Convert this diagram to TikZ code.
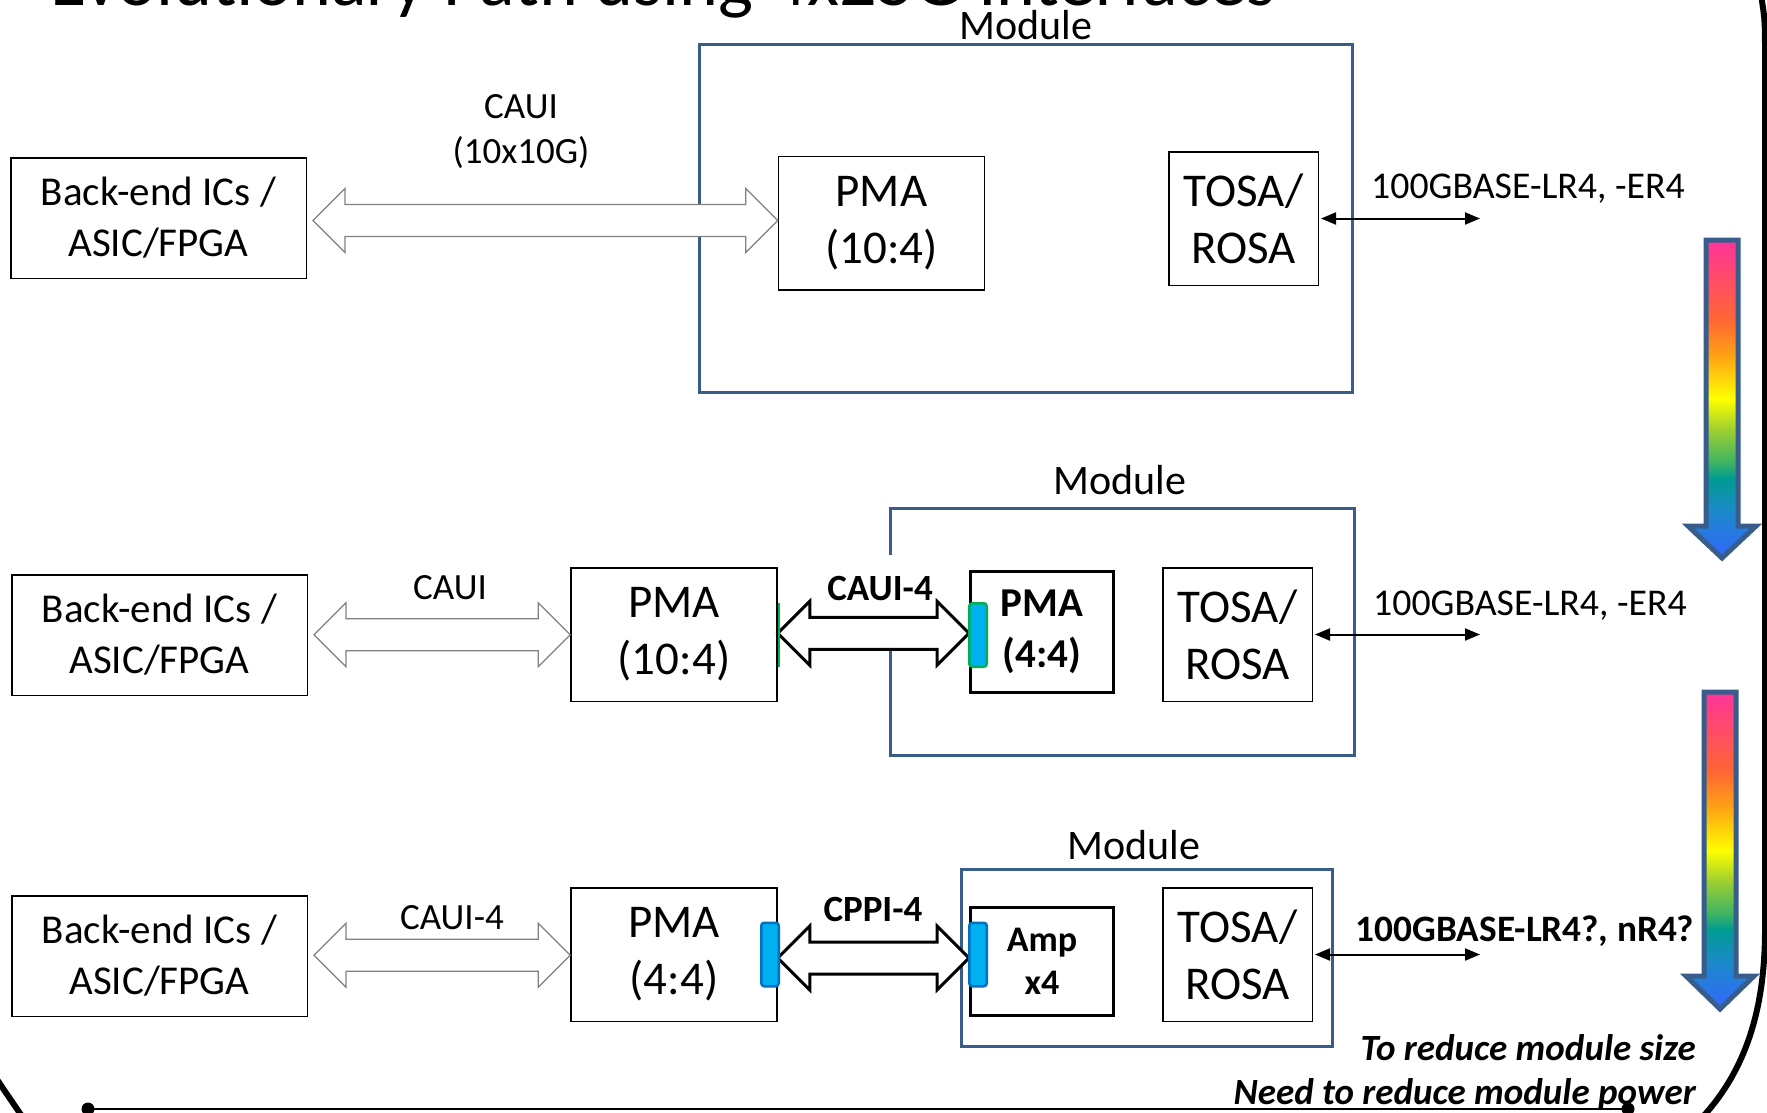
\documentclass[tikz,border=0pt]{standalone}
\usepackage{fontspec}
\setmainfont{Carlito}
\usetikzlibrary{arrows.meta,calc}
\definecolor{modblue}{RGB}{56,93,138}
\definecolor{padcyan}{RGB}{0,176,240}
\definecolor{padgreen}{RGB}{0,176,80}
\definecolor{padblue}{RGB}{0,112,192}
\definecolor{rbpink}{RGB}{255,51,153}
\definecolor{rbred}{RGB}{255,102,51}
\definecolor{rborange}{RGB}{255,160,20}
\definecolor{rbyellow}{RGB}{255,255,0}
\definecolor{rbygreen}{RGB}{154,205,50}
\definecolor{rbgreen}{RGB}{60,180,100}
\definecolor{rbteal}{RGB}{0,155,145}
\definecolor{rbtblue}{RGB}{28,138,200}
\definecolor{rbblue}{RGB}{51,102,255}
\pgfdeclareverticalshading{rainbow}{100bp}{color(0bp)=(rbblue); color(25bp)=(rbblue); color(32.5bp)=(rbtblue); color(37.5bp)=(rbteal); color(40bp)=(rbgreen); color(45bp)=(rbygreen); color(50bp)=(rbyellow); color(57bp)=(rborange); color(62.5bp)=(rbred); color(75bp)=(rbpink); color(100bp)=(rbpink)}
\newcommand{\fatarrow}[3]{%
  \path[#1] let \p1=(#2), \p2=(#3), \p3=($(#2)!0.5!(#3)$) in
    (\x1,\y3) -- (\x1+32pt,\y3+32pt) -- (\x1+32pt,\y3+16pt) -- (\x2-32pt,\y3+16pt)
    -- (\x2-32pt,\y3+32pt) -- (\x2,\y3) -- (\x2-32pt,\y3-32pt) -- (\x2-32pt,\y3-16pt)
    -- (\x1+32pt,\y3-16pt) -- (\x1+32pt,\y3-32pt) -- cycle;}

\begin{document}
\begin{tikzpicture}[x=1pt, y=-1pt,
  box/.style={draw, line width=1.5pt, fill=white, align=center, inner sep=0pt},
  host/.style={box, minimum width=295.5pt, minimum height=120.5pt, font=\fontsize{41}{51}\selectfont},
  blk/.style={box, minimum width=206pt, minimum height=133.5pt, font=\fontsize{47}{57}\selectfont},
  oe/.style={box, minimum width=149.5pt, minimum height=133.5pt, font=\fontsize{47}{57}\selectfont},
  bblk/.style={box, line width=3pt, minimum width=143pt, font=\bfseries\fontsize{41}{51}\selectfont},
  mod/.style={draw=modblue, line width=3pt, inner sep=0pt},
  modlbl/.style={font=\fontsize{42}{50}\selectfont},
  lbl/.style={font=\fontsize{37}{45}\selectfont, align=center},
  blbl/.style={font=\bfseries\fontsize{37}{45}\selectfont, fill=white, inner sep=1pt, minimum height=66pt},
  pad/.style={draw=padgreen, fill=padcyan, line width=2.5pt, rounded corners=3pt, minimum width=17.5pt, minimum height=63.5pt, inner sep=0pt},
  hollow/.style={draw=black!50, line width=1.2pt, fill=white},
  fat/.style={draw, line width=3pt, fill=white, line join=miter},
  fib/.style={line width=2pt, {Triangle[length=15pt,width=12pt]}-{Triangle[length=15pt,width=12pt]}, shorten <=2pt},
  slide/.style={line width=6pt},
  rain/.style={draw=modblue, line width=5pt, shading=rainbow, line join=miter},
  remark/.style={font=\bfseries\itshape\fontsize{37}{44}\selectfont, align=right, inner sep=0pt}]
  \useasboundingbox (0,0) rectangle (1767,1112);

  \node[font=\fontsize{74}{88}\selectfont, anchor=base west, inner sep=0pt] (ttl) at (50,5) {Evolutionary Path using 4x25G Interfaces};

  \node[modlbl] (mt1) at (1026,25) {Module};
  \node[mod, minimum width=653pt, minimum height=348pt] (mod1) at (1026,218.5) {};
  \node[host] (be1) at (158.5,218) {Back-end ICs /\\ASIC/FPGA};
  \node[blk] (pma1) at (881.5,223) {PMA\\(10:4)};
  \node[oe] (oe1) at (1243.5,218.5) {TOSA/\\ROSA};
  \node[lbl] (cl1) at (521,132) {CAUI\\(10x10G)};
  \fatarrow{hollow}{[xshift=6pt]be1.east}{pma1.west}
  \coordinate (fib1) at (1480,218.5);
  \draw[fib] (oe1.east) -- (fib1);
  \node[lbl, font=\fontsize{37.8}{45}\selectfont] (fl1) at (1528,189) {100GBASE-LR4, -ER4};

  \node[modlbl] (mt2) at (1120,480) {Module};
  \node[mod, minimum width=464pt, minimum height=247pt] (mod2) at (1122.5,632) {};
  \node[host] (be2) at (159.5,635) {Back-end ICs /\\ASIC/FPGA};
  \node[blk] (pma2) at (674,634.5) {PMA\\(10:4)};
  \node[bblk, minimum height=121pt] (pmb2) at (1042,632) {PMA\\(4:4)};
  \node[oe] (oe2) at (1237.5,634.5) {TOSA/\\ROSA};
  \node[lbl] (cl2) at (450,588) {CAUI};
  \fatarrow{hollow}{[xshift=6pt]be2.east}{pma2.west}
  \node[blbl] (cl2b) at (880,588) {CAUI-4};
  \fatarrow{fat}{pma2.east}{pmb2.west}
  \draw[padgreen, line width=2pt] ([xshift=1pt,yshift=32pt]pma2.east) -- ([xshift=1pt,yshift=-32pt]pma2.east);
  \node[pad] (pd2) at (978,635) {};
  \coordinate (fib2) at (1480,634.5);
  \draw[fib] (oe2.east) -- (fib2);
  \node[lbl, font=\fontsize{37.8}{45}\selectfont] (fl2) at (1530,606) {100GBASE-LR4, -ER4};

  \node[modlbl] (mt3) at (1134,845) {Module};
  \node[mod, minimum width=371pt, minimum height=177pt] (mod3) at (1147,958) {};
  \node[host] (be3) at (159.5,956) {Back-end ICs /\\ASIC/FPGA};
  \node[blk] (pma3) at (674,954.5) {PMA\\(4:4)};
  \node[bblk, minimum height=108pt, font=\bfseries\fontsize{36}{43}\selectfont] (amp) at (1042,961.5) {Amp\\x4};
  \node[oe] (oe3) at (1237.5,954.5) {TOSA/\\ROSA};
  \node[lbl] (cl3) at (452,918) {CAUI-4};
  \fatarrow{hollow}{[xshift=6pt]be3.east}{pma3.west}
  \node[blbl, minimum height=0pt] (cl3b) at (873,909) {CPPI-4};
  \fatarrow{fat}{pma3.east}{amp.west}
  \node[pad, draw=padblue] (pd3a) at (770,954.5) {};
  \node[pad, draw=padblue] (pd3b) at (978,954.5) {};
  \coordinate (fib3) at (1480,954.5);
  \draw[fib] (oe3.east) -- (fib3);
  \node[lbl, font=\bfseries\fontsize{37.3}{45}\selectfont] (fl3) at (1525,931) {100GBASE-LR4?, nR4?};

  \foreach \xc/\yt/\yb/\yp in {1722/240/526/558, 1720/692/976/1009}
    \shadedraw[rain] (\xc-16,\yt) -- (\xc+16,\yt) -- (\xc+16,\yb) -- (\xc+34,\yb)
      -- (\xc,\yp) -- (\xc-34,\yb) -- (\xc-16,\yb) -- cycle;

  \node[remark, anchor=east] (note) at (1696,1072) {To reduce module size\\Need to reduce module power};

  \draw[slide] (1761,-5) .. controls (1765,20) .. (1765,60) -- (1765,930)
    .. controls (1765,1020) and (1740,1080) .. (1695,1125);
  \draw[slide] (-8,1072) .. controls (4,1090) .. (26,1122);
  \coordinate (u1) at (88,1109);
  \coordinate (u2) at (1628,1109);
  \draw[line width=2.5pt] (u1) -- (u2);
  \fill (u1) circle (6.5);
  \fill (u2) circle (6.5);
\end{tikzpicture}
\end{document}
